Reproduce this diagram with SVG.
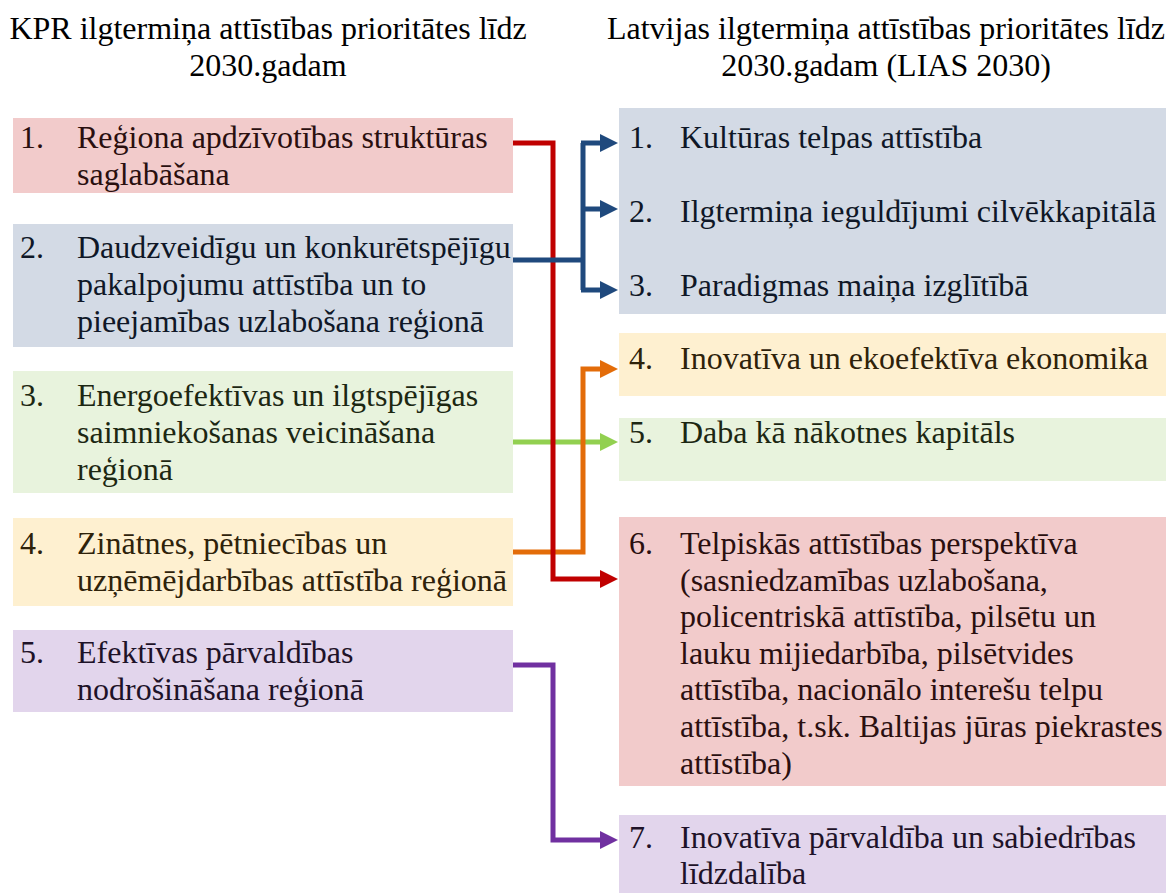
<svg xmlns="http://www.w3.org/2000/svg" width="1170" height="893" viewBox="0 0 1170 893">
<style>
text{font-family:"Liberation Serif","Times New Roman",serif;font-size:32px;fill:#111}
.h{text-anchor:middle;fill:#000}
.pk{fill:#F2CBCB}.bl{fill:#D3DAE5}.gr{fill:#E8F3DD}.yl{fill:#FEF0D0}.pu{fill:#E2D5EC}
.tpk{fill:#2a0f0f}.tbl{fill:#0f1727}.tgr{fill:#1c2712}.tyl{fill:#2e220a}.tpu{fill:#1e1228}
.c{fill:none;stroke-width:5}
</style>
<defs>
<marker id="mr" markerUnits="userSpaceOnUse" markerWidth="18" markerHeight="18" refX="0" refY="9" orient="auto"><path d="M0,0L18,9L0,18z" fill="#C00000"/></marker>
<marker id="mb" markerUnits="userSpaceOnUse" markerWidth="18" markerHeight="18" refX="0" refY="9" orient="auto"><path d="M0,0L18,9L0,18z" fill="#1F497D"/></marker>
<marker id="mg" markerUnits="userSpaceOnUse" markerWidth="18" markerHeight="18" refX="0" refY="9" orient="auto"><path d="M0,0L18,9L0,18z" fill="#92D050"/></marker>
<marker id="mo" markerUnits="userSpaceOnUse" markerWidth="18" markerHeight="18" refX="0" refY="9" orient="auto"><path d="M0,0L18,9L0,18z" fill="#E36C09"/></marker>
<marker id="mp" markerUnits="userSpaceOnUse" markerWidth="18" markerHeight="18" refX="0" refY="9" orient="auto"><path d="M0,0L18,9L0,18z" fill="#7030A0"/></marker>
</defs>
<g id="titles">
<text class="h" x="268" y="39">KPR ilgtermiņa attīstības prioritātes līdz</text>
<text class="h" x="268" y="76">2030.gadam</text>
<text class="h" x="886" y="39">Latvijas ilgtermiņa attīstības prioritātes līdz</text>
<text class="h" x="886" y="76">2030.gadam (LIAS 2030)</text>
</g>
<g id="L1"><rect class="pk" x="13" y="118" width="500" height="75"/>
<text class="tpk" x="20" y="148">1.</text><text class="tpk" x="77" y="148">Reģiona apdzīvotības struktūras</text><text class="tpk" x="77" y="185">saglabāšana</text></g>
<g id="L2"><rect class="bl" x="13" y="224" width="500" height="123"/>
<text class="tbl" x="20" y="258">2.</text><text class="tbl" x="77" y="258">Daudzveidīgu un konkurētspējīgu</text><text class="tbl" x="77" y="295">pakalpojumu attīstība un to</text><text class="tbl" x="77" y="332">pieejamības uzlabošana reģionā</text></g>
<g id="L3"><rect class="gr" x="13" y="371" width="500" height="122"/>
<text class="tgr" x="20" y="406">3.</text><text class="tgr" x="77" y="406">Energoefektīvas un ilgtspējīgas</text><text class="tgr" x="77" y="443">saimniekošanas veicināšana</text><text class="tgr" x="77" y="480">reģionā</text></g>
<g id="L4"><rect class="yl" x="13" y="518" width="500" height="88"/>
<text class="tyl" x="20" y="554">4.</text><text class="tyl" x="77" y="554">Zinātnes, pētniecības un</text><text class="tyl" x="77" y="591">uzņēmējdarbības attīstība reģionā</text></g>
<g id="L5"><rect class="pu" x="13" y="630" width="500" height="82"/>
<text class="tpu" x="20" y="663">5.</text><text class="tpu" x="77" y="663">Efektīvas pārvaldības</text><text class="tpu" x="77" y="700">nodrošināšana reģionā</text></g>
<g id="R123"><rect class="bl" x="619" y="108" width="547" height="206"/>
<text class="tbl" x="629" y="148">1.</text><text class="tbl" x="680" y="148">Kultūras telpas attīstība</text>
<text class="tbl" x="629" y="222">2.</text><text class="tbl" x="680" y="222">Ilgtermiņa ieguldījumi cilvēkkapitālā</text>
<text class="tbl" x="629" y="296">3.</text><text class="tbl" x="680" y="296">Paradigmas maiņa izglītībā</text></g>
<g id="R4"><rect class="yl" x="619" y="333" width="547" height="63"/>
<text class="tyl" x="629" y="369">4.</text><text class="tyl" x="680" y="369">Inovatīva un ekoefektīva ekonomika</text></g>
<g id="R5"><rect class="gr" x="619" y="418" width="547" height="63"/>
<text class="tgr" x="629" y="443">5.</text><text class="tgr" x="680" y="443">Daba kā nākotnes kapitāls</text></g>
<g id="R6"><rect class="pk" x="619" y="517" width="547" height="269"/>
<text class="tpk" x="629" y="554">6.</text><text class="tpk" x="680" y="554">Telpiskās attīstības perspektīva</text>
<text class="tpk" x="680" y="591">(sasniedzamības uzlabošana,</text>
<text class="tpk" x="680" y="627">policentriskā attīstība, pilsētu un</text>
<text class="tpk" x="680" y="664">lauku mijiedarbība, pilsētvides</text>
<text class="tpk" x="680" y="700">attīstība, nacionālo interešu telpu</text>
<text class="tpk" x="680" y="737">attīstība, t.sk. Baltijas jūras piekrastes</text>
<text class="tpk" x="680" y="774">attīstība)</text></g>
<g id="R7"><rect class="pu" x="619" y="815" width="547" height="78"/>
<text class="tpu" x="629" y="848">7.</text><text class="tpu" x="680" y="848">Inovatīva pārvaldība un sabiedrības</text><text class="tpu" x="680" y="884">līdzdalība</text></g>
<g id="connectors">
<path class="c" stroke="#92D050" d="M513,442H600" marker-end="url(#mg)"/>
<path class="c" stroke="#E36C09" d="M513,552H583V369H600" marker-end="url(#mo)"/>
<path class="c" stroke="#C00000" d="M513,143H553V579H600" marker-end="url(#mr)"/>
<path class="c" stroke="#1F497D" d="M513,260H583"/>
<path class="c" stroke="#1F497D" d="M583,143V290"/>
<path class="c" stroke="#1F497D" d="M581,143H600" marker-end="url(#mb)"/>
<path class="c" stroke="#1F497D" d="M583,209H600" marker-end="url(#mb)"/>
<path class="c" stroke="#1F497D" d="M581,290H600" marker-end="url(#mb)"/>
<path class="c" stroke="#7030A0" d="M513,665H553V840H600" marker-end="url(#mp)"/>
</g>
</svg>
